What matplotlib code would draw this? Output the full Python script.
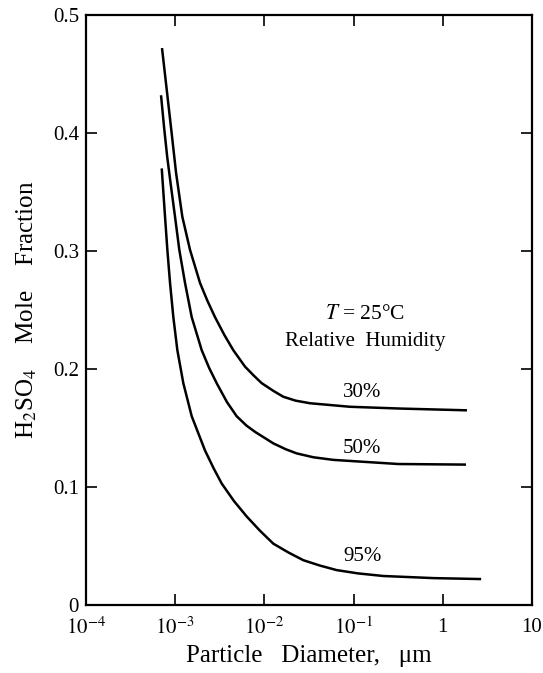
"""H2SO4 mole fraction vs particle diameter at several relative humidities."""

import matplotlib
matplotlib.use("Agg")
import matplotlib.pyplot as plt
import numpy as np

plt.rcParams["font.family"] = ["Liberation Serif", "DejaVu Serif"]
plt.rcParams["mathtext.fontset"] = "stix"

# log10 of particle diameter (um) and mole fraction
rh30_logd = [-3.148, -3.10, -3.04, -2.99, -2.92, -2.834, -2.722, -2.64, -2.554, -2.45,
             -2.349, -2.217, -2.12, -2.03, -1.90, -1.788, -1.65, -1.489, -1.04, -0.48, 0.271]
rh30_x = [0.472, 0.440, 0.400, 0.366, 0.329, 0.301, 0.273, 0.258, 0.244, 0.229,
          0.216, 0.202, 0.1945, 0.188, 0.1815, 0.1765, 0.1732, 0.171, 0.168, 0.1665, 0.165]

rh50_logd = [-3.159, -3.125, -3.09, -3.051, -3.002, -2.954, -2.890, -2.815, -2.703,
             -2.62, -2.535, -2.42, -2.311, -2.2, -2.1, -1.90, -1.76, -1.638, -1.45,
             -1.227, -0.5, 0.26]
rh50_x = [0.432, 0.405, 0.380, 0.357, 0.329, 0.301, 0.273, 0.244, 0.216,
          0.201, 0.188, 0.172, 0.160, 0.152, 0.1465, 0.137, 0.132, 0.1285, 0.1252,
          0.123, 0.1195, 0.119]

rh95_logd = [-3.151, -3.114, -3.088, -3.058, -3.021, -2.976, -2.909, -2.815, -2.666,
             -2.57, -2.479, -2.34, -2.198, -2.05, -1.90, -1.73, -1.564, -1.38, -1.19,
             -0.95, -0.667, -0.1, 0.43]
rh95_x = [0.370, 0.329, 0.301, 0.273, 0.244, 0.216, 0.188, 0.160, 0.131,
          0.116, 0.103, 0.088, 0.075, 0.063, 0.052, 0.0445, 0.038, 0.0335, 0.0296,
          0.0268, 0.0246, 0.0228, 0.022]

curve_labels = ["30%", "50%", "95%"]
label_d = 0.125
label_y = [0.1805, 0.133, 0.0415]

x_ticks = [1e-4, 1e-3, 1e-2, 1e-1, 1, 10]
x_tick_labels = [r"$10^{-4}$", r"$10^{-3}$", r"$10^{-2}$", r"$10^{-1}$", "1", "10"]
y_ticks = [0, 0.1, 0.2, 0.3, 0.4, 0.5]
y_tick_labels = ["0", "0.1", "0.2", "0.3", "0.4", "0.5"]

fig = plt.figure(figsize=(5.43, 6.73), dpi=100)
ax = fig.add_axes([0.1584, 0.101, 0.8213, 0.8767])

curves = [(rh30_logd, rh30_x), (rh50_logd, rh50_x), (rh95_logd, rh95_x)]
for (logd, x), label, ly in zip(curves, curve_labels, label_y):
    ax.plot(10 ** np.asarray(logd), x, color="black", linewidth=1.8,
            solid_capstyle="butt", solid_joinstyle="round")
    ax.text(label_d, ly, label, ha="center", va="center", fontsize=15)

ax.text(0.134, 0.2458, r"$T$ = 25°C", ha="center", va="center", fontsize=15.5)
ax.text(0.134, 0.2229, "Relative  Humidity", ha="center", va="center", fontsize=15)

ax.set_xscale("log")
ax.set_xlim(1e-4, 10)
ax.set_ylim(0, 0.5)
ax.set_xticks(x_ticks)
ax.set_xticklabels(x_tick_labels)
ax.set_yticks(y_ticks)
ax.set_yticklabels(y_tick_labels)
ax.minorticks_off()
ax.tick_params(direction="in", length=8, width=1.2, top=True, right=True,
               labelsize=15)
ax.tick_params(axis="x", pad=9)
ax.tick_params(axis="y", pad=5)
for spine in ax.spines.values():
    spine.set_linewidth(1.6)

ax.set_xlabel("Particle   Diameter,   μm", fontsize=18, labelpad=4)
ax.set_ylabel(r"H$_2$SO$_4$    Mole    Fraction", fontsize=18, labelpad=10)

fig.savefig("out.png", dpi=100)
plt.close(fig)
